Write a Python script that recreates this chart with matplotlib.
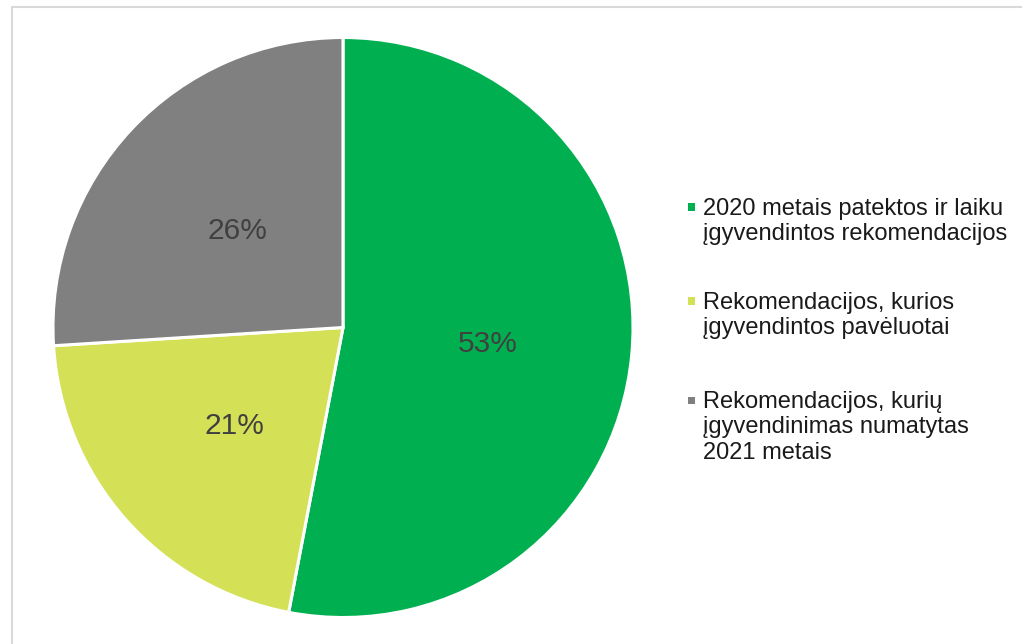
import matplotlib.pyplot as plt
from matplotlib.patches import Rectangle

# chart data
labels = [
    "2020 metais patektos ir laiku\nįgyvendintos rekomendacijos",
    "Rekomendacijos, kurios\nįgyvendintos pavėluotai",
    "Rekomendacijos, kurių\nįgyvendinimas numatytas\n2021 metais",
]
shares = [53, 21, 26]
colors = ["#00B050", "#D4E157", "#808080"]

plt.rcParams['font.family'] = ['Liberation Sans', 'DejaVu Sans']

W, H = 1022, 644
fig = plt.figure(figsize=(W / 100, H / 100), dpi=100)

# light chart-area frame (runs off the right and bottom edges)
fig.patches.append(Rectangle((12 / W, -0.05), 1.1, 1 - 7 / H + 0.05,
                             transform=fig.transFigure, fill=False,
                             edgecolor="#D9D9D9", linewidth=1.5))

# pie axes: centre (343, 327.5), radius 290 px
cx, cy, r = 343, 327.5, 290
ax = fig.add_axes([(cx - r) / W, (H - cy - r) / H, 2 * r / W, 2 * r / H])
wedges, texts, autotexts = ax.pie(
    shares, colors=colors, startangle=90, counterclock=False,
    autopct=lambda p: f"{round(p)}%", pctdistance=0.5,
    wedgeprops=dict(edgecolor='white', linewidth=2.2),
    textprops=dict(fontsize=21.5, color='#404040'))
for t in autotexts:
    t.set_va('center_baseline')
ax.set_xlim(-1, 1)
ax.set_ylim(-1, 1)
ax.set_aspect('equal')

# legend drawn by hand so markers sit on the first line of each label
text_x = 703 / W
first_line_y = [207, 301, 400]
line_h = 25.5
for lab, col, y0 in zip(labels, colors, first_line_y):
    n = lab.count("\n") + 1
    yc = y0 + 2 + (n - 1) * line_h / 2
    fig.text(text_x, 1 - yc / H, lab, ha='left', va='center',
             fontsize=17, color='#1a1a1a', linespacing=1.2)
    fig.patches.append(Rectangle((688 / W, 1 - (y0 + 3.5) / H), 7 / W, 7 / H,
                                 transform=fig.transFigure, facecolor=col,
                                 edgecolor='none'))

fig.savefig('out.png', dpi=100)
